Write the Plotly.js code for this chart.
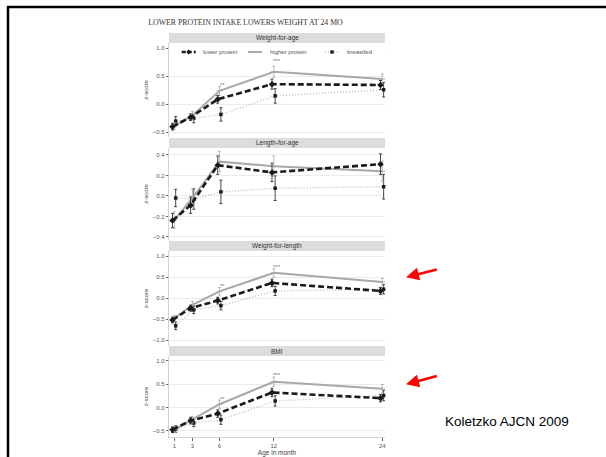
<!DOCTYPE html>
<html><head><meta charset="utf-8">
<script src="https://cdn.plot.ly/plotly-3.0.1.min.js"></script>
<style>html,body{margin:0;padding:0;background:#fff;}#chart{width:606px;height:457px;}</style>
</head><body><div id="chart"></div>
<script>
// ---------- data ----------
const months = [1, 3, 6, 12, 24];
const panelTitles = ['Weight-for-age', 'Length-for-age', 'Weight-for-length', 'BMI'];
const seriesNames = ['lower protein', 'higher protein', 'breastfed'];

// Weight-for-age
const wfaLower   = [-0.40, -0.23, 0.09, 0.36, 0.345];
const wfaHigher  = [-0.39, -0.20, 0.24, 0.58, 0.45];
const wfaBreast  = [-0.30, -0.25, -0.18, 0.15, 0.26];
const wfaLowerErr  = [0.06, 0.06, 0.07, 0.09, 0.08];
const wfaHigherErr = [0.06, 0.07, 0.08, 0.10, 0.09];
const wfaBreastErr = [0.08, 0.08, 0.12, 0.13, 0.13];

// Length-for-age
const lfaLower   = [-0.24, -0.09, 0.30, 0.23, 0.31];
const lfaHigher  = [-0.235, -0.02, 0.335, 0.29, 0.24];
const lfaBreast  = [-0.02, -0.03, 0.04, 0.075, 0.09];
const lfaLowerErr  = [0.07, 0.08, 0.09, 0.09, 0.10];
const lfaHigherErr = [0.08, 0.09, 0.10, 0.10, 0.10];
const lfaBreastErr = [0.085, 0.10, 0.115, 0.12, 0.12];

// Weight-for-length
const wflLower   = [-0.52, -0.24, -0.06, 0.36, 0.17];
const wflHigher  = [-0.48, -0.16, 0.16, 0.60, 0.38];
const wflBreast  = [-0.66, -0.28, -0.18, 0.17, 0.21];
const wflLowerErr  = [0.07, 0.07, 0.08, 0.09, 0.08];
const wflHigherErr = [0.07, 0.08, 0.09, 0.10, 0.09];
const wflBreastErr = [0.09, 0.09, 0.10, 0.11, 0.11];

// BMI
const bmiLower   = [-0.475, -0.28, -0.13, 0.32, 0.20];
const bmiHigher  = [-0.475, -0.26, 0.07, 0.55, 0.40];
const bmiBreast  = [-0.46, -0.33, -0.26, 0.14, 0.255];
const bmiLowerErr  = [0.06, 0.07, 0.08, 0.09, 0.08];
const bmiHigherErr = [0.06, 0.07, 0.09, 0.10, 0.09];
const bmiBreastErr = [0.07, 0.08, 0.10, 0.11, 0.11];

// significance marks: panel index, month, label, y
const starPanel = [0, 0, 2, 2, 2, 3, 3, 3];
const starMonth = [6, 12, 6, 12, 24, 6, 12, 24];
const starText  = ['**', '***', '**', '***', '**', '**', '***', '**'];
const starY     = [0.35, 0.77, 0.29, 0.73, 0.56, 0.18, 0.70, 0.53];

const yTicks = [[-0.5, 0, 0.5, 1.0], [-0.4, -0.2, 0, 0.2, 0.4], [-1.0, -0.5, 0, 0.5, 1.0], [-0.5, 0, 0.5, 1.0]];
const yRanges = [[-0.584, 1.095], [-0.43, 0.468], [-1.14, 1.12], [-0.63, 1.10]];

// ---------- layout helpers ----------
const W = 606, H = 457;
const px = v => v / W;
const py = v => 1 - v / H;
const plotL = 169, plotR = 385;
const panelTop = [43, 148, 251, 356];
const panelBot = [137, 240, 346, 437];
const stripH = 10;
const FONT = 'Liberation Sans, Arial, sans-serif';

const lowers = [wfaLower, lfaLower, wflLower, bmiLower];
const highers = [wfaHigher, lfaHigher, wflHigher, bmiHigher];
const breasts = [wfaBreast, lfaBreast, wflBreast, bmiBreast];
const lowerErrs = [wfaLowerErr, lfaLowerErr, wflLowerErr, bmiLowerErr];
const higherErrs = [wfaHigherErr, lfaHigherErr, wflHigherErr, bmiHigherErr];
const breastErrs = [wfaBreastErr, lfaBreastErr, wflBreastErr, bmiBreastErr];

const dodge = [-0.2, 0, 0.15];
const styles = [
  {line: {color: '#1a1a1a', width: 2.6, dash: '6px,3px'}, marker: {symbol: 'diamond', size: 5, color: '#1a1a1a'}, err: '#1a1a1a'},
  {line: {color: '#a8a8a8', width: 2, dash: 'solid'}, marker: {symbol: 'line-ew-open', size: 4, color: '#a8a8a8', line: {color: '#a8a8a8', width: 1}}, err: '#a8a8a8'},
  {line: {color: '#bdbdbd', width: 1.4, dash: '1px,2px'}, marker: {symbol: 'square', size: 3.5, color: '#1a1a1a'}, err: '#1a1a1a'}
];

const traces = [];
for (let p = 0; p < 4; p++) {
  const yref = p === 0 ? 'y' : 'y' + (p + 1);
  const sets = [[lowers[p], lowerErrs[p]], [highers[p], higherErrs[p]], [breasts[p], breastErrs[p]]];
  [2, 1, 0].forEach(s => {
    traces.push({
      type: 'scatter', mode: 'lines+markers',
      x: months.map(m => m + dodge[s]),
      y: sets[s][0],
      xaxis: 'x', yaxis: yref,
      name: seriesNames[s],
      showlegend: false,
      cliponaxis: false,
      line: styles[s].line,
      marker: styles[s].marker,
      error_y: {type: 'data', array: sets[s][1], visible: true, color: styles[s].err, thickness: 0.8, width: 1.5},
      hoverinfo: 'skip'
    });
  });
}

const shapes = [];
const annotations = [];

for (let p = 0; p < 4; p++) {
  shapes.push({type: 'rect', xref: 'paper', yref: 'paper', x0: px(plotL), x1: px(plotR),
    y0: py(panelTop[p]), y1: py(panelTop[p] - stripH), fillcolor: '#dcdcdc', line: {width: 0}, layer: 'below'});
  annotations.push({xref: 'paper', yref: 'paper', x: px((plotL + plotR) / 2), y: py(panelTop[p] - stripH / 2),
    text: panelTitles[p], showarrow: false, xanchor: 'center', yanchor: 'middle',
    font: {family: FONT, size: 6.5, color: '#333'}});
}

for (let i = 0; i < starText.length; i++) {
  const p = starPanel[i];
  annotations.push({xref: 'x', yref: p === 0 ? 'y' : 'y' + (p + 1), x: starMonth[i] + 0.35, y: starY[i],
    text: starText[i], showarrow: false, xanchor: 'center', yanchor: 'middle',
    font: {family: FONT, size: 6, color: '#777'}});
}

// legend (drawn inside the first panel, as in the reference)
const legY = 52;
const legSampleX = [181.7, 248, 325];
const legSampleW = 14;
shapes.push({type: 'rect', xref: 'paper', yref: 'paper', x0: px(171), x1: px(384), y0: py(59), y1: py(45),
  fillcolor: '#fff', line: {width: 0}, layer: 'above'});
for (let s = 0; s < 3; s++) {
  const x0 = legSampleX[s], x1 = x0 + legSampleW, xc = (x0 + x1) / 2;
  shapes.push({type: 'line', xref: 'paper', yref: 'paper', x0: px(x0), x1: px(x1), y0: py(legY), y1: py(legY),
    line: {color: styles[s].line.color, width: styles[s].line.width, dash: s === 0 ? '4px,2px' : styles[s].line.dash}});
  if (s === 0) {
    shapes.push({type: 'path', xref: 'paper', yref: 'paper',
      path: `M${px(xc - 2.5)},${py(legY)} L${px(xc)},${py(legY - 2.5)} L${px(xc + 2.5)},${py(legY)} L${px(xc)},${py(legY + 2.5)} Z`,
      fillcolor: '#1a1a1a', line: {width: 0}});
  } else if (s === 2) {
    shapes.push({type: 'rect', xref: 'paper', yref: 'paper', x0: px(xc - 1.7), x1: px(xc + 1.7), y0: py(legY + 1.7), y1: py(legY - 1.7),
      fillcolor: '#1a1a1a', line: {width: 0}});
  }
  annotations.push({xref: 'paper', yref: 'paper', x: px(x1 + 5.5), y: py(legY), text: seriesNames[s],
    showarrow: false, xanchor: 'left', yanchor: 'middle', font: {family: FONT, size: 6, color: '#555'}});
}

// slide frame
shapes.push({type: 'line', xref: 'paper', yref: 'paper', x0: px(7), x1: 1, y0: py(7), y1: py(7), line: {color: '#000', width: 2.5}});
shapes.push({type: 'line', xref: 'paper', yref: 'paper', x0: px(8), x1: px(8), y0: py(6), y1: 0, line: {color: '#000', width: 2.5}});

// red arrows
[[406, 277.3, 438.3, 269], [406, 384.3, 438.3, 375.7]].forEach(a => {
  annotations.push({xref: 'paper', yref: 'paper', x: px(a[0]), y: py(a[1]), ax: a[2] - a[0], ay: a[3] - a[1],
    text: '', showarrow: true, arrowhead: 2, arrowsize: 1, arrowwidth: 2.6, arrowcolor: '#ff0000'});
});

annotations.push({xref: 'paper', yref: 'paper', x: px(443), y: py(421), text: 'Koletzko AJCN 2009',
  showarrow: false, xanchor: 'left', yanchor: 'middle',
  font: {family: FONT, size: 13.5, color: '#000'}});

const tickFont = {family: FONT, size: 6, color: '#555'};

const layout = {
  width: W, height: H,
  margin: {l: 0, r: 0, t: 0, b: 0},
  paper_bgcolor: '#fff', plot_bgcolor: '#fff',
  showlegend: false,
  title: {text: 'LOWER PROTEIN INTAKE LOWERS WEIGHT AT 24 MO', x: px(245.5), xanchor: 'center', y: py(22), yanchor: 'middle',
    font: {family: 'Liberation Serif, Times New Roman, serif', size: 7.8, color: '#333'}},
  xaxis: {domain: [px(plotL), px(plotR)], anchor: 'y4', range: [0.41, 24.3], tickmode: 'array', tickvals: months,
    ticks: 'outside', ticklen: 3, tickcolor: '#666', tickfont: tickFont, showgrid: false, zeroline: false,
    showline: true, linecolor: '#c8c8c8', linewidth: 0.8,
    title: {text: 'Age in month', font: {family: FONT, size: 6.5, color: '#444'}, standoff: 2}},
  shapes: shapes,
  annotations: annotations
};

for (let p = 0; p < 4; p++) {
  const key = p === 0 ? 'yaxis' : 'yaxis' + (p + 1);
  layout[key] = {
    domain: [py(panelBot[p]), py(panelTop[p])], anchor: 'x', range: yRanges[p],
    tickmode: 'array', tickvals: yTicks[p], tickformat: '.1f',
    ticks: 'outside', ticklen: 2.5, tickcolor: '#666', tickfont: tickFont,
    showgrid: true, gridcolor: '#e6e6e6', gridwidth: 0.8, zeroline: false,
    showline: true, linecolor: '#c8c8c8', linewidth: 0.8,
    title: {text: 'z-score', font: {family: FONT, size: 6, color: '#444'}, standoff: 3}
  };
}

Plotly.newPlot('chart', traces, layout, {staticPlot: true, displayModeBar: false});
</script>
</body></html>
